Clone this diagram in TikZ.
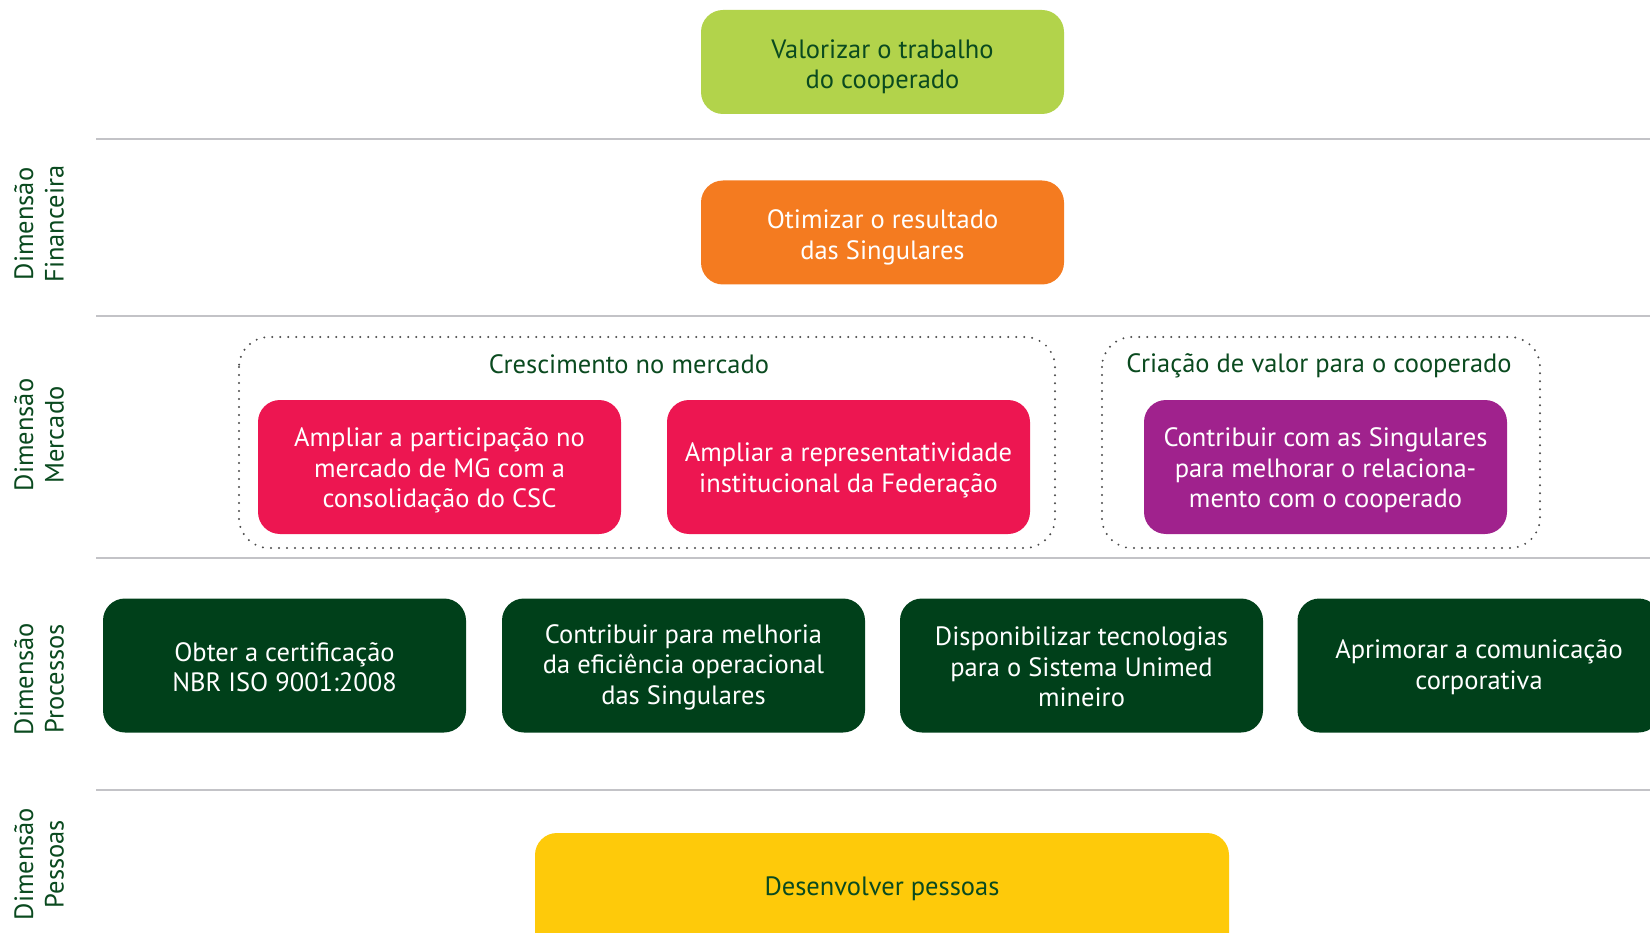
\documentclass[tikz,border=0pt]{standalone}
\usepackage{fontspec}
\setmainfont{PT Sans}
\definecolor{dgreen}{HTML}{00401A}
\definecolor{tgreen}{HTML}{0A4A1F}
\definecolor{lime}{HTML}{B2D34B}
\definecolor{orng}{HTML}{F47B20}
\definecolor{rred}{HTML}{ED1651}
\definecolor{purp}{HTML}{A0228D}
\definecolor{yell}{HTML}{FECA0A}
\definecolor{sep}{HTML}{C3C3C7}
\definecolor{dotc}{HTML}{4A4A4A}
\begin{document}
\begin{tikzpicture}[x=1pt,y=-1pt,
  txt/.style={font=\fontsize{26.5}{30.5}\selectfont},
  goal/.style={rounded corners=22pt, inner sep=0pt,
     minimum width=363pt, minimum height=134pt},
  gtext/.style={txt, align=center, inner sep=0pt, text=white, yshift=-3.5pt},
  ptext/.style={gtext, yshift=1.8pt},
  sepline/.style={draw=sep, line width=2.5pt},
  group/.style={draw=dotc, line width=2.2pt, dash pattern=on 0pt off 8pt, line cap=round, rounded corners=30pt},
  dimlabel/.style={txt, text=tgreen, rotate=90, align=center},
  heading/.style={txt, text=tgreen}]
\useasboundingbox (0,0) rectangle (1650,933);
% separators
\coordinate (s1a) at (96,139); \coordinate (s1b) at (1650,139);
\coordinate (s2a) at (96,316); \coordinate (s2b) at (1650,316);
\coordinate (s3a) at (96,558); \coordinate (s3b) at (1650,558);
\coordinate (s4a) at (96,790); \coordinate (s4b) at (1650,790);
\draw[sepline] (s1a) -- (s1b);
\draw[sepline] (s2a) -- (s2b);
\draw[sepline] (s3a) -- (s3b);
\draw[sepline] (s4a) -- (s4b);
% dimension labels
\node[dimlabel] (lf) at (39,224) {Dimensão\\Financeira};
\node[dimlabel] (lm) at (39,435) {Dimensão\\Mercado};
\node[dimlabel] (lp) at (39,679) {Dimensão\\Processos};
\node[dimlabel] (lpe) at (39,864) {Dimensão\\Pessoas};
% top
\node[goal, fill=lime, minimum height=104pt,
  label={[gtext, text=tgreen, yshift=-1.5pt]center:{Valorizar o trabalho\\do cooperado}}] (valor) at (882.5,62) {};
\node[goal, fill=orng, minimum height=104pt,
  label={[gtext, yshift=-1.5pt]center:{Otimizar o resultado\\das Singulares}}] (otim) at (882.5,232.5) {};
% market groups
\draw[group] (239,337) rectangle (1055,548);
\draw[group] (1102,337) rectangle (1540,548);
\node[heading] (h1) at (629,364) {Crescimento no mercado};
\node[heading] (h2) at (1319,366) {Criação de valor para o cooperado};
\node[goal, fill=rred,
  label={[gtext]center:{Ampliar a participação no\\mercado de MG com a\\consolidação do CSC}}] (m1) at (439.5,467) {};
\node[goal, fill=rred,
  label={[gtext]center:{Ampliar a representatividade\\institucional da Federação}}] (m2) at (848.5,467) {};
\node[goal, fill=purp,
  label={[gtext]center:{Contribuir com as Singulares\\para melhorar o relaciona-\\mento com o cooperado}}] (m3) at (1325.5,467) {};
% processes
\node[goal, fill=dgreen,
  label={[ptext]center:{Obter a certificação\\NBR ISO 9001:2008}}] (p1) at (284.5,665.5) {};
\node[goal, fill=dgreen,
  label={[ptext]center:{Contribuir para melhoria\\da eficiência operacional\\das Singulares}}] (p2) at (683.5,665.5) {};
\node[goal, fill=dgreen,
  label={[ptext]center:{Disponibilizar tecnologias\\para o Sistema Unimed\\mineiro}}] (p3) at (1081.5,665.5) {};
\node[goal, fill=dgreen,
  label={[ptext]center:{Aprimorar a comunicação\\corporativa}}] (p4) at (1479,665.5) {};
% people
\node[goal, fill=yell, minimum width=694pt, minimum height=136pt] (pe) at (882,901) {};
\node[txt, text=tgreen] (pet) at (882,889) {Desenvolver pessoas};
\end{tikzpicture}
\end{document}
